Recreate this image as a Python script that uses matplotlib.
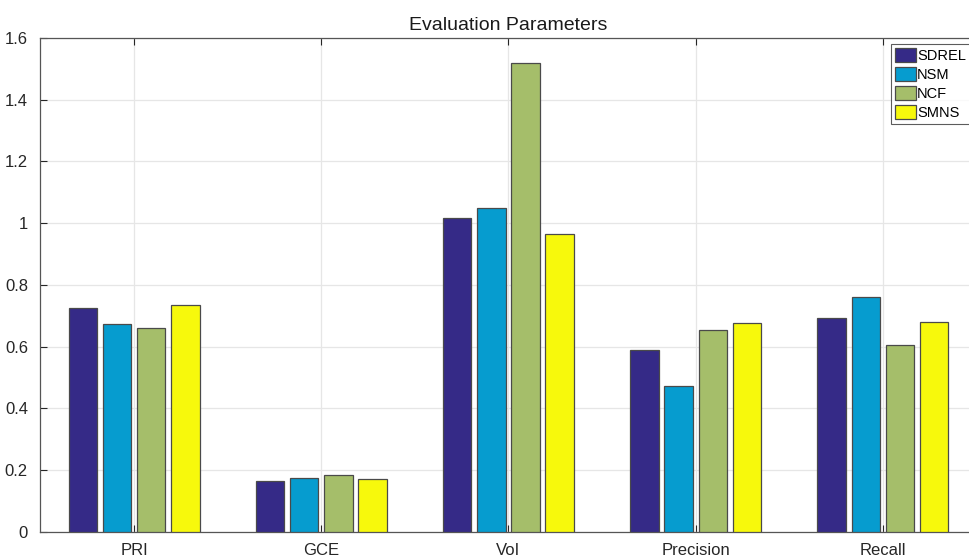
import numpy as np
import matplotlib.pyplot as plt

plt.rcParams['font.family'] = ['Liberation Sans', 'DejaVu Sans']

# ---- Data ----
params = ["PRI", "GCE", "VoI", "Precision", "Recall"]
methods = ["SDREL", "NSM", "NCF", "SMNS"]
sdrel = [0.725, 0.166, 1.018, 0.590, 0.694]
nsm = [0.675, 0.174, 1.048, 0.472, 0.761]
ncf = [0.661, 0.186, 1.519, 0.655, 0.605]
smns = [0.735, 0.171, 0.964, 0.678, 0.680]
yticks = [0, 0.2, 0.4, 0.6, 0.8, 1.0, 1.2, 1.4, 1.6]
ytick_labels = ["0", "0.2", "0.4", "0.6", "0.8", "1", "1.2", "1.4", "1.6"]

colors = ["#352A87", "#069CCF", "#A5BE6A", "#F7F90C"]

# ---- Plot ----
fig = plt.figure(figsize=(9.69, 5.58), dpi=100)
ax = fig.add_axes([0.0417, 0.0466, 0.966, 0.8853])

x = np.arange(1, len(params) + 1)
step = 0.1826
width = 0.152
for i, (name, vals) in enumerate(zip(methods, [sdrel, nsm, ncf, smns])):
    ax.bar(x + (i - 1.5) * step, vals, width, color=colors[i],
           edgecolor="#4a4a4a", linewidth=0.9, label=name, zorder=3)

ax.set_xlim(0.5, 5.5)
ax.set_ylim(0, 1.6)
ax.set_xticks(x)
ax.set_xticklabels(params)
ax.set_yticks(yticks)
ax.set_yticklabels(ytick_labels)
ax.tick_params(direction="in", length=5, labelsize=12, colors="#262626",
               top=True, right=True, pad=8)
ax.tick_params(axis="y", pad=9)
ax.grid(True, color="#e6e6e6", linewidth=0.9, zorder=0)
for s in ax.spines.values():
    s.set_color("#555555")
    s.set_linewidth(0.9)

ax.set_title("Evaluation Parameters", fontsize=14, color="#1a1a1a", pad=6)

leg = ax.legend(loc="upper left", bbox_to_anchor=(891 / 969, 1 - 44 / 558),
                bbox_transform=fig.transFigure, fontsize=10.5, frameon=True,
                fancybox=False, handlelength=1.4, handleheight=1.1,
                handletextpad=0.1, labelspacing=0.26, borderpad=0.3,
                borderaxespad=0)
leg.get_frame().set_edgecolor("#333333")
leg.get_frame().set_linewidth(0.8)

fig.savefig("out.png", dpi=100)
